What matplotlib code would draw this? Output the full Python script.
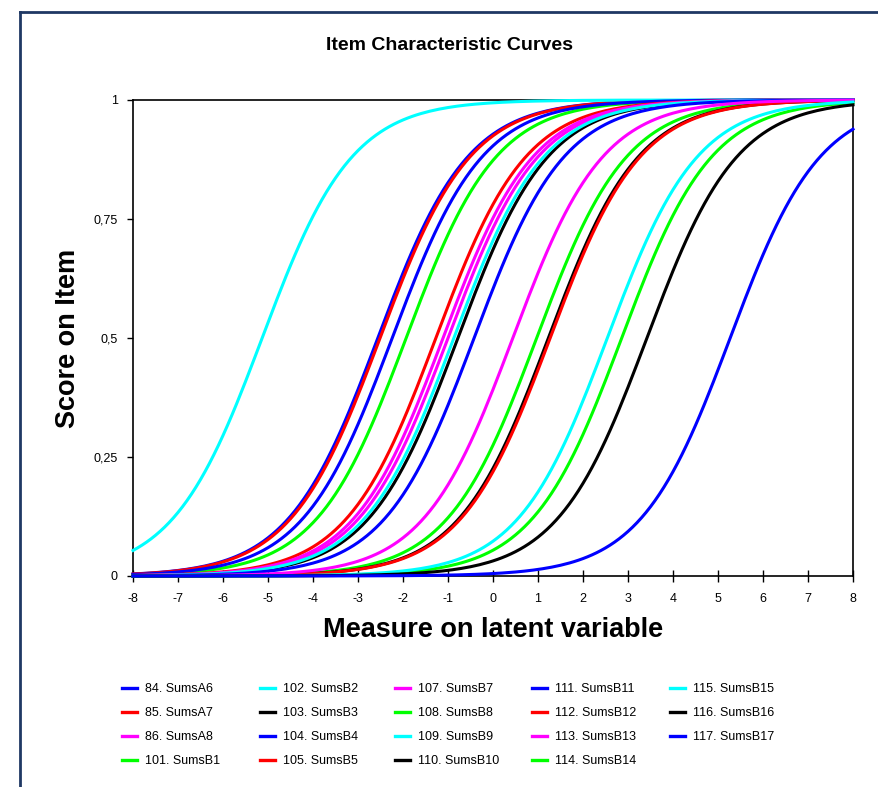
import numpy as np
import matplotlib.pyplot as plt
from matplotlib.lines import Line2D

plt.rcParams['font.family'] = ['Liberation Sans', 'DejaVu Sans']

# item labels, curve colours and Rasch item locations (logits)
items = ['84. SumsA6', '85. SumsA7', '86. SumsA8', '101. SumsB1', '102. SumsB2',
         '103. SumsB3', '104. SumsB4', '105. SumsB5', '107. SumsB7', '108. SumsB8',
         '109. SumsB9', '110. SumsB10', '111. SumsB11', '112. SumsB12', '113. SumsB13',
         '114. SumsB14', '115. SumsB15', '116. SumsB16', '117. SumsB17']
colors = ['#0000ff', '#ff0000', '#ff00ff', '#00ff00', '#00ffff',
          '#000000', '#0000ff', '#ff0000', '#ff00ff', '#00ff00',
          '#00ffff', '#000000', '#0000ff', '#ff0000', '#ff00ff',
          '#00ff00', '#00ffff', '#000000', '#0000ff']
difficulty = [-2.56, -2.51, -1.00, -1.93, -5.13,
              -0.78, -2.24, -1.27, -1.11, 0.97,
              -0.87, 1.23, -0.42, 1.27, 0.44,
              2.86, 2.54, 3.42, 5.27]

x_ticks = list(range(-8, 9))
y_ticks = [0, 0.25, 0.5, 0.75, 1]
y_tick_labels = ['0', '0,25', '0,5', '0,75', '1']

theta = np.linspace(-8, 8, 161)

fig = plt.figure(figsize=(8.79, 7.87), dpi=100)
ax = fig.add_axes([133 / 879, 1 - 576 / 787, 720 / 879, 476 / 787])

for name, col, b in zip(items, colors, difficulty):
    p = 1 / (1 + np.exp(-(theta - b)))
    ax.plot(theta, p, color=col, lw=2.2, label=name, zorder=3, clip_on=False)

ax.set_xlim(-8, 8)
ax.set_ylim(0, 1)
ax.set_xticks(x_ticks)
ax.set_xticklabels([str(t) for t in x_ticks])
ax.set_yticks(y_ticks)
ax.set_yticklabels(y_tick_labels)
ax.tick_params(axis='x', direction='inout', length=8, width=1, labelsize=9, pad=8)
ax.tick_params(axis='y', direction='out', length=4, width=1, labelsize=9, pad=7)
for s in ax.spines.values():
    s.set_linewidth(1.2)
    s.set_color('black')

fig.text(450 / 879, 1 - 46 / 787, 'Item Characteristic Curves', ha='center', va='center',
         fontsize=14, fontweight='bold')
fig.text(493 / 879, 1 - 630 / 787, 'Measure on latent variable', ha='center', va='center',
         fontsize=19.5, fontweight='bold')
fig.text(68 / 879, 1 - 338 / 787, 'Score on Item', ha='center', va='center',
         rotation=90, fontsize=19.5, fontweight='bold')

# legend: five equally spaced columns of four entries
handles, labels = ax.get_legend_handles_labels()
col_left = [116, 254, 389, 526, 664]
for c, xl in enumerate(col_left):
    leg = fig.legend(handles[4 * c:4 * c + 4], labels[4 * c:4 * c + 4], loc='upper left',
                     bbox_to_anchor=(xl / 879, 1 - 677 / 787), frameon=False,
                     fontsize=9, handlelength=1.2, handletextpad=0.6,
                     labelspacing=0.95, borderpad=0)
    for h in leg.legend_handles:
        h.set_linewidth(2.4)

# dark outer frame along the left and top edges
fig.add_artist(Line2D([20 / 879, 20 / 879], [0, 1 - 12 / 787], color='#1f3864', lw=2))
fig.add_artist(Line2D([20 / 879, 1], [1 - 12 / 787, 1 - 12 / 787], color='#1f3864', lw=2))

fig.savefig('out.png', dpi=100)
